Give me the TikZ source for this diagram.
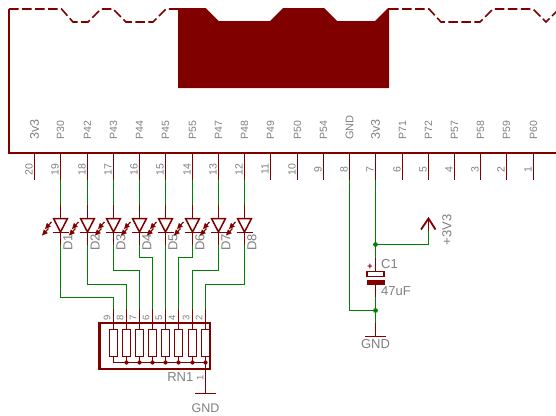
\documentclass[tikz,border=0pt]{standalone}
\usepackage{fontspec}
\setmainfont{Liberation Sans}
\definecolor{sch}{HTML}{800000}
\definecolor{net}{HTML}{008000}
\definecolor{lab}{HTML}{808080}
\tikzset{
  part/.style={draw=sch,line width=1.5pt,line cap=butt},
  wire/.style={draw=net,line width=1.4pt,line join=miter},
  chipedge/.style={draw=sch,line width=1.6pt,dash pattern=on 9.5pt off 3.5pt},
  pinlabel/.style={text=lab,font=\fontsize{10.5}{10.5}\selectfont,rotate=90,inner sep=0pt},
  numlabel/.style={text=lab,font=\fontsize{10.5}{10.5}\selectfont,rotate=90,inner sep=0pt},
  valuelabel/.style={text=lab,font=\fontsize{13}{13}\selectfont,inner sep=0pt},
  junction/.style={circle,fill=net,inner sep=0pt,minimum size=4.8pt},
  busdot/.style={circle,fill=sch,inner sep=0pt,minimum size=4.2pt},
}
\begin{document}
\begin{tikzpicture}[x=1pt,y=-1pt]
\useasboundingbox[fill=white] (0,0) rectangle (556,415);
% chip outline
\draw[chipedge] (9,9) -- (61.5,9) -- (73,22) -- (88,22) -- (101,9) -- (113,9) -- (126,22) -- (153,22) -- (166,9) -- (178,9);
\draw[chipedge] (389,9) -- (429,9) -- (441,22) -- (480,22) -- (493,9) -- (533,9) -- (546,22) -- (557,11);
\fill[sch] (178,8) -- (205.5,8) -- (218.5,21) -- (270,21) -- (283,8) -- (324,8) -- (337,21) -- (375,21) -- (388,8) -- (389,8) -- (389,88) -- (178,88) -- cycle;
\draw[draw=sch,line width=1.6pt] (9,9) -- (9,153) -- (556,153);
% pins
\foreach \x/\num/\name/\sc in {34.5/20/3v3/1.2,60.5/19/P30/1,87.5/18/P42/1,113.5/17/P43/1,139.5/16/P44/1,165.5/15/P45/1,192.5/14/P55/1,218.5/13/P47/1,244.5/12/P48/1,270.5/11/P49/1,297.5/10/P50/1,323.5/9/P54/1,349.5/8/GND/1.05,375.5/7/3v3/1.2,402.5/6/P71/1,428.5/5/P72/1,454.5/4/P57/1,480.5/3/P58/1,506.5/2/P59/1,533.5/1/P60/1}{
  \coordinate (pa\num) at (\x,153);
  \coordinate (p\num) at (\x,179.5);
  \draw[part] (pa\num) -- (p\num);
  \node[pinlabel,anchor=west,scale=\sc] (pn\num) at (\x,140) {\name};
  \node[numlabel] (nm\num) at (\x-5.5,169.5) {\num};
}
% LEDs
\foreach \i/\x/\pin in {1/60.5/19,2/87.5/18,3/113.5/17,4/139.5/16,5/165.5/15,6/192.5/14,7/218.5/13,8/244.5/12}{
  \coordinate (la\i) at (\x,205);
  \coordinate (lk\i) at (\x,245);
  \coordinate (lt\i) at (\x,218);
  \coordinate (lb\i) at (\x,232);
  \draw[wire] (p\pin) -- (la\i);
  \draw[part] (la\i) -- (lt\i);
  \draw[part] (lb\i) -- (lk\i);
  \draw[part,line join=miter] (\x-7,218.5) -- (\x+7,218.5) -- (\x,232) -- cycle;
  \draw[part] (\x-8,232.5) -- (\x+8,232.5);
  \foreach \dx/\dy in {-9/222,-12/228.5}{
    \draw[draw=sch,line width=1.2pt] (\x+\dx,\dy) -- (\x+\dx-3,\dy+3.2);
    \fill[sch] (\x+\dx-6.5,\dy+7) -- (\x+\dx-4.6,\dy+0.9) -- (\x+\dx-0.7,\dy+4.7) -- cycle;
  }
  \node[pinlabel,anchor=west,font=\fontsize{13}{13}\selectfont] (dl\i) at (\x+7.5,251) {D\i};
}
% resistor network
\draw[part,line width=2.2pt] (99.5,323) rectangle (210,369);
\foreach \i/\x/\n in {1/113.5/9,2/126.5/8,3/139.5/7,4/152.5/6,5/165.5/5,6/178.5/4,7/192.5/3,8/205.5/2}{
  \coordinate (rt\i) at (\x,309);
  \coordinate (rb\i) at (\x,362.5);
  \draw[part] (rt\i) -- (\x,329.5);
  \draw[part] (\x,356.5) -- (rb\i);
  \draw[part,line join=miter] (\x-4,329.5) rectangle (\x+4,356.5);
  \node[numlabel,font=\fontsize{9.5}{9.5}\selectfont] (rn\i) at (\x-6.5,318) {\n};
}
\draw[part] (rb1) -- (rb8);
\foreach \i in {2,...,8}{\node[busdot] (bd\i) at (rb\i) {};}
\draw[wire] (lk1) |- (113.5,297.5) -- (rt1);
\draw[wire] (lk2) |- (126.5,284.5) -- (rt2);
\draw[wire] (lk3) |- (139.5,270.5) -- (rt3);
\draw[wire] (lk4) |- (152.5,257.5) -- (rt4);
\draw[wire] (lk5) -- (rt5);
\draw[wire] (lk6) |- (178.5,257.5) -- (rt6);
\draw[wire] (lk7) |- (192.5,270.5) -- (rt7);
\draw[wire] (lk8) |- (205.5,284.5) -- (rt8);
\node[valuelabel,anchor=east] (rnn) at (193.5,377) {RN1};
\node[numlabel,font=\fontsize{9.5}{9.5}\selectfont] (rnone) at (200,378) {1};
\coordinate (gndb) at (205.5,393.5);
\draw[part] (rb8) -- (gndb);
\draw[part] (195,393.5) -- (216,393.5);
\node[valuelabel,font=\fontsize{12.5}{12.5}\selectfont] (gndl) at (205.5,408) {GND};
% capacitor and supply
\node[junction] (j1) at (375.5,244.5) {};
\node[junction] (j2) at (375.5,310.5) {};
\coordinate (c1) at (375.5,257.5);
\coordinate (c2) at (375.5,271);
\coordinate (c3) at (375.5,284);
\coordinate (c4) at (375.5,297);
\coordinate (g1) at (375.5,322.5);
\coordinate (g2) at (375.5,336.5);
\coordinate (sup) at (428.5,230.5);
\coordinate (tip) at (428.5,218.5);
\draw[wire] (p7) -- (j1);
\draw[wire] (j1) -- (c1);
\draw[wire] (j1) -| (sup);
\draw[wire] (p8) |- (j2);
\draw[wire] (c4) -- (j2);
\draw[wire] (j2) -- (g1);
\draw[part] (c1) -- (c2);
\draw[part] (c3) -- (c4);
\draw[part] (g1) -- (g2);
\draw[part] (365,336.5) -- (386,336.5);
\draw[part,fill=white] (367,271.5) rectangle (384,276.5);
\fill[sch] (366.5,279.7) rectangle (384.5,284.5);
\node[text=sch,font=\fontsize{9}{9}\selectfont\bfseries,inner sep=0pt] (plus) at (370,266.5) {+};
\draw[part,line width=1.8pt] (sup) -- (tip);
\draw[part,line width=1.8pt] (421,229.5) -- (tip) -- (435.5,229.5);
\node[valuelabel,rotate=90] (sl) at (447,230) {+3V3};
\node[valuelabel,anchor=west] (cn) at (381,264) {C1};
\node[valuelabel,anchor=west] (cv) at (381,291) {47uF};
\node[valuelabel] (gl2) at (375.5,344.5) {GND};
\end{tikzpicture}
\end{document}
